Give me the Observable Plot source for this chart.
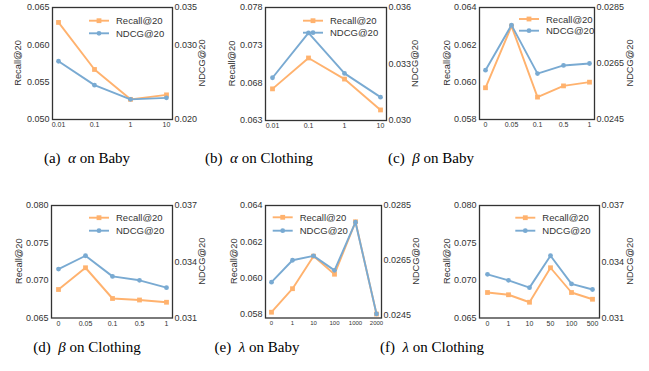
<!DOCTYPE html>
<html><head><meta charset="utf-8">
<script src="https://cdn.jsdelivr.net/npm/d3@7"></script>
<script src="https://cdn.jsdelivr.net/npm/@observablehq/plot@0.6"></script>
<style>
body{margin:0;background:#fff;}
#root{position:relative;width:649px;height:371px;overflow:hidden;background:#fff;}
.panel{position:absolute;}
.cap{position:absolute;font-family:"Liberation Serif","Times New Roman",serif;font-size:15px;line-height:18px;color:#000;white-space:nowrap;transform:translateX(-50%);}
</style></head><body><div id="root"></div>
<script>
// ---- data ----
const alphaCats = ["0.01", "0.1", "1", "10"];
const betaCats = ["0", "0.05", "0.1", "0.5", "1"];
const lambdaBabyCats = ["0", "1", "10", "100", "1000", "2000"];
const lambdaClothCats = ["0", "1", "10", "50", "100", "500"];

const recallAlphaBaby = [0.0630, 0.0567, 0.0527, 0.0533];
const ndcgAlphaBaby = [0.0278, 0.0246, 0.0227, 0.0229];
const recallAlphaCloth = [0.0672, 0.0713, 0.0685, 0.0644];
const ndcgAlphaCloth = [0.03227, 0.03465, 0.0325, 0.03124];
const recallBetaBaby = [0.0597, 0.0630, 0.0592, 0.0598, 0.0600];
const ndcgBetaBaby = [0.02626, 0.02787, 0.02614, 0.02643, 0.0265];
const recallBetaCloth = [0.0688, 0.0717, 0.0676, 0.0674, 0.0671];
const ndcgBetaCloth = [0.03361, 0.03432, 0.03322, 0.03301, 0.03262];
const recallLambdaBaby = [0.0581, 0.0594, 0.0612, 0.0602, 0.0631, 0.0580];
const ndcgLambdaBaby = [0.0257, 0.0265, 0.02666, 0.02613, 0.02789, 0.02454];
const recallLambdaCloth = [0.0684, 0.0681, 0.0671, 0.0717, 0.0684, 0.0675];
const ndcgLambdaCloth = [0.03333, 0.03301, 0.03262, 0.03432, 0.03282, 0.03252];

const recallTicksA = [0.050, 0.055, 0.060, 0.065];
const ndcgTicksA = [0.020, 0.030, 0.035];
const recallTicksB = [0.063, 0.068, 0.073, 0.078];
const ndcgTicksB = [0.030, 0.033, 0.036];
const recallTicksC = [0.058, 0.060, 0.062, 0.064];
const ndcgTicksC = [0.0245, 0.0265, 0.0285];
const recallTicksD = [0.065, 0.070, 0.075, 0.080];
const ndcgTicksD = [0.031, 0.034, 0.037];

const captions = [
  ["(a)", "α", "on Baby"], ["(b)", "α", "on Clothing"], ["(c)", "β", "on Baby"],
  ["(d)", "β", "on Clothing"], ["(e)", "λ", "on Baby"], ["(f)", "λ", "on Clothing"]
];
const seriesNames = ["Recall@20", "NDCG@20"];

// ---- layout ----
const ORANGE = "#ffb26e", BLUE = "#79aad2", INK = "#333";
const ML = 40, MR = 40, MT = 8, MB = 14;
const panels = [
  {cats: alphaCats, rec: recallAlphaBaby, ndcg: ndcgAlphaBaby, rDom: [0.050, 0.065], rT: recallTicksA, nDom: [0.020, 0.035], nT: ndcgTicksA, nDec: 3,
   fx: 52, fy: 7, w: 120, h: 112, lx: 37, ly: 13.7, lg: 12.6, ll: -33.7, rl: 29.7, xfs: 7, cx: 87, cy: 158},
  {cats: alphaCats, rec: recallAlphaCloth, ndcg: ndcgAlphaCloth, rDom: [0.063, 0.078], rT: recallTicksB, nDom: [0.030, 0.036], nT: ndcgTicksB, nDec: 3,
   fx: 265, fy: 7, w: 121, h: 113, lx: 38, ly: 13.7, lg: 12, ll: -32.7, rl: 29.3, xfs: 7, cx: 259, cy: 158},
  {cats: betaCats, rec: recallBetaBaby, ndcg: ndcgBetaBaby, rDom: [0.058, 0.064], rT: recallTicksC, nDom: [0.0245, 0.0285], nT: ndcgTicksC, nDec: 4,
   fx: 479, fy: 7, w: 115, h: 112, lx: 40, ly: 12, lg: 11.7, ll: -31.7, rl: 35.6, xfs: 7, cx: 431, cy: 158},
  {cats: betaCats, rec: recallBetaCloth, ndcg: ndcgBetaCloth, rDom: [0.065, 0.080], rT: recallTicksD, nDom: [0.031, 0.037], nT: ndcgTicksD, nDec: 3,
   fx: 51, fy: 205, w: 121, h: 112.5, lx: 38, ly: 12.7, lg: 13, ll: -31.7, rl: 30, xfs: 7, cx: 87, cy: 347},
  {cats: lambdaBabyCats, rec: recallLambdaBaby, ndcg: ndcgLambdaBaby, rDom: [0.05778, 0.064], rT: recallTicksC, nDom: [0.02439, 0.0285], nT: ndcgTicksC, nDec: 4,
   fx: 265, fy: 205, w: 116, h: 112.5, lx: 7.7, ly: 12.3, lg: 13.4, ll: -30.7, rl: 35, xfs: 6, cx: 257, cy: 347},
  {cats: lambdaClothCats, rec: recallLambdaCloth, ndcg: ndcgLambdaCloth, rDom: [0.065, 0.080], rT: recallTicksD, nDom: [0.031, 0.037], nT: ndcgTicksD, nDec: 3,
   fx: 479, fy: 205, w: 120, h: 112.5, lx: 36.3, ly: 12.7, lg: 13, ll: -31.7, rl: 30.7, xfs: 7, cx: 432, cy: 347}
];

const root = document.getElementById("root");

panels.forEach((p, i) => {
  const data = p.cats.map((c, k) => ({cat: c, recall: p.rec[k], ndcg: p.ndcg[k]}));
  const W = p.w + ML + MR, H = p.h + MT + MB;
  const pad = 0.05 * (p.cats.length - 1);
  const common = {
    width: W, height: H, marginLeft: ML, marginRight: MR, marginTop: MT, marginBottom: MB,
    style: {background: "transparent", fontFamily: "'Liberation Sans', Arial, sans-serif", color: INK, overflow: "visible"}
  };
  const A = Plot.plot({
    ...common,
    x: {type: "point", domain: p.cats, padding: pad, label: null},
    y: {domain: p.rDom, label: null},
    marks: [
      Plot.axisY({ticks: p.rT, tickSize: 0, tickPadding: 3, tickFormat: d => d.toFixed(3), fontSize: 9, label: null}),
      Plot.axisX({tickSize: 0, tickPadding: 3, fontSize: p.xfs, label: null}),
      Plot.line(data, {x: "cat", y: "recall", stroke: ORANGE, strokeWidth: 1.9}),
      Plot.dot(data, {x: "cat", y: "recall", symbol: "square", r: 2.7, fill: ORANGE, stroke: null}),
      Plot.frame({stroke: INK, strokeWidth: 1.3})
    ]
  });
  const B = Plot.plot({
    ...common,
    x: {type: "point", domain: p.cats, padding: pad, axis: null},
    y: {domain: p.nDom, label: null},
    marks: [
      Plot.axisY({anchor: "right", ticks: p.nT, tickSize: 0, tickPadding: 2, tickFormat: d => d.toFixed(p.nDec), fontSize: 9, label: null}),
      Plot.line(data, {x: "cat", y: "ndcg", stroke: BLUE, strokeWidth: 1.9}),
      Plot.dot(data, {x: "cat", y: "ndcg", r: 2.4, fill: BLUE, stroke: null})
    ]
  });
  [A, B].forEach(s => {
    s.classList.add("panel");
    s.style.left = (p.fx - ML) + "px";
    s.style.top = (p.fy - MT) + "px";
    root.appendChild(s);
  });
  // axis titles and legend (drawn on top layer)
  const g = d3.select(B).append("g").attr("font-family", "'Liberation Sans', Arial, sans-serif").attr("fill", INK);
  const cy = MT + p.h / 2;
  g.append("text").attr("transform", `translate(${ML + p.ll},${cy}) rotate(-90)`)
    .attr("text-anchor", "middle").attr("dominant-baseline", "central").attr("font-size", 9.3).text(seriesNames[0]);
  g.append("text").attr("transform", `translate(${ML + p.w + p.rl},${cy}) rotate(-90)`)
    .attr("text-anchor", "middle").attr("dominant-baseline", "central").attr("font-size", 9.3).text(seriesNames[1]);
  [ORANGE, BLUE].forEach((col, k) => {
    const y = MT + p.ly + k * p.lg;
    const x0 = ML + p.lx;
    g.append("line").attr("x1", x0).attr("x2", x0 + 20).attr("y1", y).attr("y2", y)
      .attr("stroke", col).attr("stroke-width", 1.9);
    if (k === 0) g.append("rect").attr("x", x0 + 10 - 2.4).attr("y", y - 2.4).attr("width", 4.8).attr("height", 4.8).attr("fill", col);
    else g.append("circle").attr("cx", x0 + 10).attr("cy", y).attr("r", 2.4).attr("fill", col);
    g.append("text").attr("x", x0 + 27).attr("y", y).attr("dominant-baseline", "central")
      .attr("text-anchor", "start").attr("font-size", 9.5).text(seriesNames[k]);
  });
  // caption
  const c = document.createElement("div");
  c.className = "cap";
  c.style.left = p.cx + "px";
  c.style.top = (p.cy - 9) + "px";
  c.innerHTML = `${captions[i][0]}&ensp;<i>${captions[i][1]}</i> ${captions[i][2]}`;
  root.appendChild(c);
});
</script></body></html>
